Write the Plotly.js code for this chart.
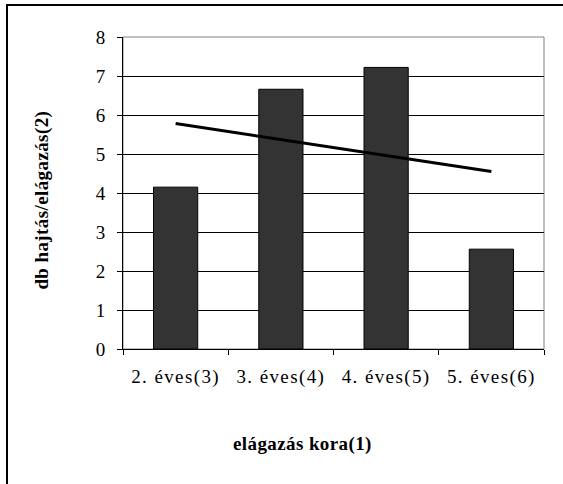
<!DOCTYPE html>
<html>
<head>
<meta charset="utf-8">
<script src="https://cdn.plot.ly/plotly-3.0.1.min.js"></script>
<style>
  html, body { margin: 0; padding: 0; background: #fff; }
  #wrap { position: relative; width: 563px; height: 484px; overflow: hidden; }
  #chart { width: 563px; height: 484px; }
  #frame { position: absolute; left: 6px; top: 4px; width: 600px; height: 600px;
           border-left: 2px solid #000; border-top: 2px solid #000; pointer-events: none; }
  .xtick text { letter-spacing: 1.4px; }
  .annotation-text { letter-spacing: 0.4px; }
</style>
</head>
<body>
<div id="wrap">
  <div id="chart"></div>
  <div id="frame"></div>
</div>
<script>
const categories = ['2. éves(3)', '3. éves(4)', '4. éves(5)', '5. éves(6)'];
const barValues = [4.15, 6.66, 7.22, 2.56];
const trendCategories = ['2. éves(3)', '5. éves(6)'];
const trendValues = [5.78, 4.55];
const yTickValues = [0, 1, 2, 3, 4, 5, 6, 7, 8];

const FONT = '"Liberation Serif", "Times New Roman", serif';

const traces = [
  {
    type: 'bar',
    x: categories,
    y: barValues,
    marker: { color: '#333333', line: { color: '#000000', width: 1 } },
    hoverinfo: 'skip'
  },
  {
    type: 'scatter',
    mode: 'lines',
    x: trendCategories,
    y: trendValues,
    line: { color: '#000000', width: 3 },
    hoverinfo: 'skip'
  }
];

const layout = {
  width: 563,
  height: 484,
  margin: { l: 123, r: 19, t: 37, b: 135 },
  paper_bgcolor: '#ffffff',
  plot_bgcolor: '#ffffff',
  showlegend: false,
  bargap: 0.58,
  font: { family: FONT, size: 19, color: '#000000' },
  xaxis: {
    type: 'category',
    tickson: 'boundaries',
    ticks: 'outside',
    ticklen: 5,
    tickcolor: '#000000',
    showline: true,
    linecolor: '#000000',
    linewidth: 1,
    showgrid: false,
    zeroline: false,
    ticklabelstandoff: 10,
    tickfont: { family: FONT, size: 19, color: '#000000' }
  },
  yaxis: {
    range: [0, 8],
    tickvals: yTickValues,
    ticks: 'outside',
    ticklen: 5,
    tickcolor: '#000000',
    showline: true,
    linecolor: '#000000',
    linewidth: 1,
    showgrid: true,
    gridcolor: '#000000',
    gridwidth: 1,
    zeroline: false,
    ticklabelstandoff: 8,
    tickfont: { family: FONT, size: 19, color: '#000000' }
  },
  shapes: [
    { type: 'rect', xref: 'paper', yref: 'paper', x0: 0, x1: 1, y0: 0, y1: 1,
      line: { color: '#808080', width: 1 }, layer: 'below' }
  ],
  annotations: [
    { text: '<b>elágazás kora(1)</b>', xref: 'paper', yref: 'paper',
      x: 0.427, y: -0.303, xanchor: 'center', yanchor: 'middle', showarrow: false,
      font: { family: FONT, size: 19, color: '#000000' } },
    { text: '<b>db hajtás/elágazás(2)</b>', xref: 'paper', yref: 'paper',
      x: -0.193, y: 0.478, xanchor: 'center', yanchor: 'middle', showarrow: false,
      textangle: -90,
      font: { family: FONT, size: 19, color: '#000000' } }
  ]
};

Plotly.newPlot('chart', traces, layout, { staticPlot: true, displayModeBar: false });
</script>
</body>
</html>
